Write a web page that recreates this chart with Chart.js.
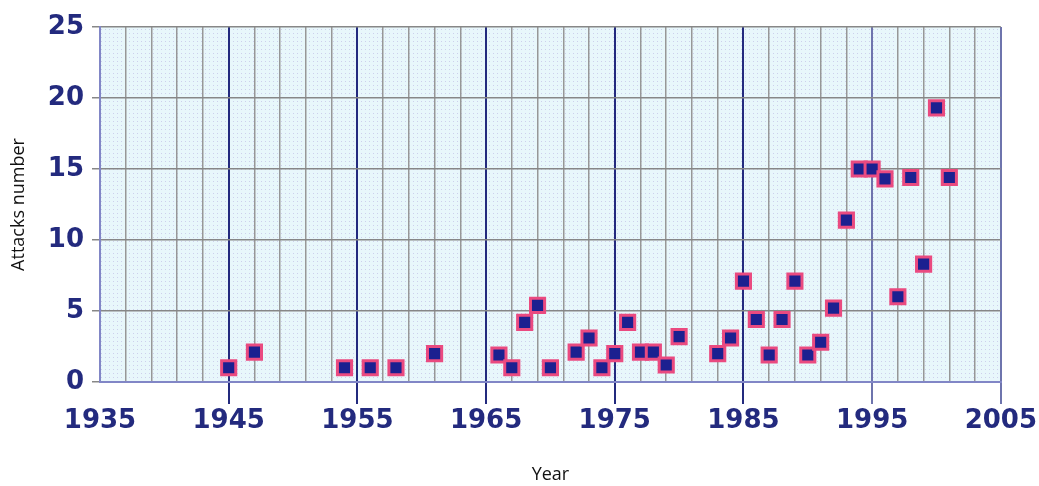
<!DOCTYPE html>
<html>
<head>
<meta charset="utf-8">
<script src="https://cdn.jsdelivr.net/npm/chart.js@4/dist/chart.umd.min.js"></script>
<style>
  html, body { margin: 0; padding: 0; background: #ffffff; }
  #wrap { width: 1039px; height: 486px; position: relative; }
</style>
</head>
<body>
<div id="wrap"><canvas id="attacksChart"></canvas></div>
<script>
// values
const years   = [1945, 1947, 1954, 1956, 1958, 1961, 1966, 1967, 1968, 1969, 1970,
                 1972, 1973, 1974, 1975, 1976, 1977, 1978, 1979, 1980, 1983, 1984,
                 1985, 1986, 1987, 1988, 1989, 1990, 1991, 1992, 1993, 1994, 1995,
                 1996, 1997, 1998, 1999, 2000, 2001];
const attacks = [1, 2.1, 1, 1, 1, 2, 1.9, 1, 4.2, 5.4, 1,
                 2.1, 3.1, 1, 2, 4.2, 2.1, 2.1, 1.2, 3.2, 2, 3.1,
                 7.1, 4.4, 1.9, 4.4, 7.1, 1.9, 2.8, 5.2, 11.4, 15, 15,
                 14.3, 6, 14.4, 8.3, 19.3, 14.4];
const yearMin = 1935, yearMax = 2005;
const labelYears = [1935, 1945, 1955, 1965, 1975, 1985, 1995, 2005];

const navy = '#232a7e';

// dotted light-cyan background of the plot area
const dotBackground = {
    id: 'dotBackground',
    beforeDraw(chart) {
        const { ctx, chartArea: a } = chart;
        const tile = document.createElement('canvas');
        tile.width = 4; tile.height = 4;
        const t = tile.getContext('2d');
        t.fillStyle = '#e8f7fb';
        t.fillRect(0, 0, 4, 4);
        t.fillStyle = '#cdd0ec';
        t.fillRect(1, 1, 1, 1);
        ctx.save();
        ctx.fillStyle = ctx.createPattern(tile, 'repeat');
        ctx.fillRect(a.left, a.top, a.right - a.left, a.bottom - a.top);
        ctx.restore();
    }
};

function majorColor(v) {
    if (v === 1935) return 'rgba(0,0,0,0)';
    if (v >= 1995) return '#6e74ad';
    return navy;
}

const ctx = document.getElementById('attacksChart').getContext('2d');
new Chart(ctx, {
    type: 'scatter',
    data: {
        datasets: [{
            label: 'Attacks',
            data: years.map((y, i) => ({ x: y, y: attacks[i] })),
            pointStyle: 'rect',
            pointRadius: 10,
            pointHoverRadius: 10,
            pointBorderWidth: 3,
            pointBackgroundColor: '#1c2090',
            pointBorderColor: '#ea4a80'
        }]
    },
    options: {
        responsive: true,
        maintainAspectRatio: false,
        animation: false,
        layout: { padding: { top: 27, right: 32, bottom: 0, left: 0 } },
        plugins: {
            legend: { display: false },
            tooltip: { enabled: false }
        },
        scales: {
            x: {
                type: 'linear',
                min: yearMin,
                max: yearMax,
                afterFit: (scale) => { scale.height = 104; },
                afterBuildTicks: (scale) => {
                    const ticks = [];
                    for (let v = yearMin; v <= yearMax; v += 2) ticks.push({ value: v });
                    if (ticks[ticks.length - 1].value !== yearMax) ticks.push({ value: yearMax });
                    scale.ticks = ticks;
                },
                border: { display: true, color: '#8186c6', width: 2 },
                grid: {
                    color: (c) => labelYears.includes(c.tick.value) ? majorColor(c.tick.value) : '#979797',
                    lineWidth: (c) => labelYears.includes(c.tick.value) ? 2 : 1.5,
                    tickColor: (c) => labelYears.includes(c.tick.value) ? majorColor(c.tick.value) : 'rgba(0,0,0,0)',
                    tickLength: 22
                },
                ticks: {
                    autoSkip: false,
                    maxRotation: 0,
                    padding: 2,
                    color: navy,
                    font: { family: 'DejaVu Sans', size: 26, weight: 'bold' },
                    callback: (v) => labelYears.includes(v) ? String(v) : ''
                },
                title: {
                    display: true,
                    text: 'Year',
                    color: '#111111',
                    font: { family: 'Open Sans', size: 18 },
                    padding: { top: 0, bottom: 0 }
                }
            },
            y: {
                min: 0,
                max: 25,
                afterFit: (scale) => { scale.width = 100; },
                border: { display: true, color: '#8186c6', width: 2 },
                grid: {
                    color: '#878787',
                    lineWidth: 1.5,
                    tickColor: '#878787',
                    tickLength: 8
                },
                ticks: {
                    stepSize: 5,
                    padding: 8,
                    color: navy,
                    font: { family: 'DejaVu Sans', size: 26, weight: 'bold' }
                },
                title: {
                    display: true,
                    text: 'Attacks number',
                    color: '#111111',
                    font: { family: 'Open Sans', size: 18 },
                    padding: { top: 8, bottom: 0 }
                }
            }
        }
    },
    plugins: [dotBackground]
});
</script>
</body>
</html>
